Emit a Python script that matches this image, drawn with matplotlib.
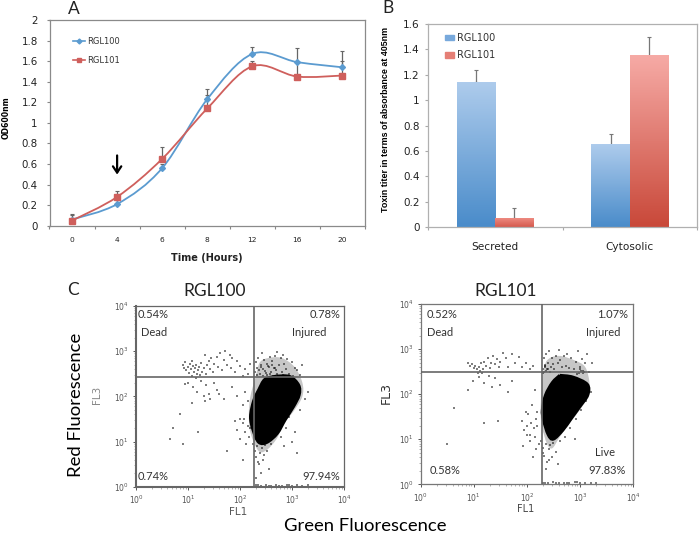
import numpy as np
import matplotlib
matplotlib.use('Agg')
import matplotlib.pyplot as plt
from matplotlib.colors import LinearSegmentedColormap
from matplotlib.patches import PathPatch, Patch
from matplotlib.path import Path
from matplotlib.lines import Line2D

# panel A
hours = ['0', '4', '6', '8', '12', '16', '20']
rgl100_od = [0.06, 0.21, 0.56, 1.23, 1.67, 1.59, 1.54]
rgl101_od = [0.05, 0.28, 0.65, 1.14, 1.55, 1.45, 1.46]
rgl100_err = [0.05, 0.04, 0.04, 0.10, 0.07, 0.14, 0.16]
rgl101_err = [0.05, 0.06, 0.12, 0.13, 0.05, 0.14, 0.14]
od_ticks = [0, 0.2, 0.4, 0.6, 0.8, 1, 1.2, 1.4, 1.6, 1.8, 2]

# panel B
fractions = ['Secreted', 'Cytosolic']
rgl100_toxin = [1.14, 0.65]
rgl101_toxin = [0.07, 1.35]
rgl100_toxin_err = [0.10, 0.08]
rgl101_toxin_err = [0.08, 0.15]
toxin_ticks = [0, 0.2, 0.4, 0.6, 0.8, 1, 1.2, 1.4, 1.6]

# panel C, everything in decades (log10 of FL1 / FL3)
c1_gate = (2.26, 2.43)
c1_blob_x = [2.70, 2.96, 3.13, 3.14, 3.03, 2.87, 2.72, 2.52, 2.36, 2.25, 2.20, 2.26, 2.36, 2.48]
c1_blob_y = [2.45, 2.44, 2.25, 2.03, 1.77, 1.48, 1.18, 0.98, 0.98, 1.25, 1.55, 1.90, 2.15, 2.38]
c1_halo_x = [2.30, 2.38, 2.55, 2.80, 3.05, 3.20, 3.20, 3.05, 2.85, 2.70, 2.50, 2.35, 2.20, 2.17, 2.20]
c1_halo_y = [2.43, 2.75, 2.85, 2.85, 2.65, 2.30, 2.00, 1.70, 1.40, 1.05, 0.80, 0.80, 1.20, 1.60, 2.00]
c1_dots_x = [0.90, 0.93, 0.95, 0.97, 1.00, 1.02, 1.03, 1.05, 1.07, 1.08, 1.10, 1.12, 1.13, 1.15, 1.16, 1.18,
             1.20, 1.21, 1.23, 1.25, 1.27, 1.30, 1.33, 1.35, 1.37, 1.40, 1.42, 1.45, 1.48, 1.50, 1.55, 1.58,
             1.62, 1.65, 1.70, 1.72, 1.75, 1.80, 1.83, 1.85, 1.90, 1.95, 2.00, 2.05, 2.10, 2.15, 2.20,
             1.00, 1.10, 1.18, 1.25, 1.30, 1.32, 1.35, 1.40, 1.42, 1.50, 1.55, 1.60, 1.70, 1.85, 1.95, 2.05,
             2.10, 2.15, 0.95, 1.08, 0.85, 0.72, 0.65, 0.90, 1.20, 2.00, 2.05, 2.10, 2.15, 2.18, 1.90, 1.95,
             2.00, 2.08, 2.12, 2.20, 1.75, 2.05,
             2.28, 2.30, 2.33, 2.35, 2.38, 2.40, 2.42, 2.45, 2.47, 2.50, 2.52, 2.55, 2.57, 2.60, 2.62, 2.65,
             2.68, 2.70, 2.72, 2.75, 2.78, 2.80, 2.83, 2.85, 2.88, 2.90, 2.95, 3.00, 3.05, 3.10, 3.15, 3.20,
             2.32, 2.36, 2.41, 2.44, 2.48, 2.51, 2.54, 2.58, 2.61, 2.64, 2.67, 2.72, 2.76, 2.82, 2.92, 3.02,
             2.25, 2.28, 2.30, 2.33, 2.36, 2.38, 2.42, 2.45, 2.48, 2.52, 2.55, 2.60, 2.40, 2.34, 2.46, 2.31,
             2.78, 2.88, 2.95, 3.05, 3.15, 3.25, 3.30, 3.00, 3.10, 2.85,
             2.30, 2.40, 2.50, 2.60, 2.70, 2.80, 2.90, 3.00, 3.10, 3.20, 3.30, 2.35, 2.55, 2.75, 2.95]
c1_dots_y = [2.70, 2.62, 2.75, 2.58, 2.66, 2.52, 2.72, 2.60, 2.78, 2.45, 2.68, 2.55, 2.63, 2.40, 2.70, 2.50,
             2.58, 2.66, 2.47, 2.74, 2.55, 2.62, 2.92, 2.50, 2.70, 2.78, 2.60, 2.85, 2.55, 2.72, 2.88, 2.65,
             2.95, 2.58, 2.80, 3.00, 2.70, 2.92, 2.62, 2.85, 2.55, 2.78, 2.68, 2.45, 2.60, 2.50, 2.72,
             2.30, 2.20, 2.10, 2.35, 2.00, 1.90, 2.25, 2.05, 1.95, 2.30, 2.15, 2.05, 1.95, 2.20, 2.00, 1.80,
             2.10, 1.90, 2.28, 1.85, 1.60, 1.30, 1.05, 0.95, 1.20, 1.50, 1.40, 1.20, 1.35, 1.10, 1.45, 1.25,
             1.05, 1.50, 0.95, 1.30, 0.80, 0.60,
             2.55, 2.75, 2.62, 2.85, 2.50, 2.70, 2.95, 2.60, 2.80, 2.52, 2.72, 2.65, 2.88, 2.55, 2.78, 2.62,
             2.90, 2.58, 2.98, 2.70, 2.85, 2.55, 2.92, 2.72, 2.60, 2.82, 2.50, 2.75, 2.62, 2.58, 2.48, 2.70,
             2.48, 2.58, 2.66, 2.45, 2.56, 2.48, 2.68, 2.50, 2.70, 2.46, 2.62, 2.50, 2.45, 2.48, 2.42, 2.45,
             0.95, 0.80, 0.65, 0.90, 0.50, 0.75, 0.85, 0.60, 0.92, 0.78, 0.40, 0.95, 0.30, 0.55, 0.70, 0.20,
             1.10, 1.30, 1.55, 1.20, 1.70, 1.95, 2.10, 1.00, 0.75, 0.90,
             0.03, 0.02, 0.04, 0.02, 0.03, 0.02, 0.04, 0.02, 0.03, 0.02, 0.03, 0.03, 0.02, 0.02, 0.04]

c2_gate = (2.28, 2.485)
c2_blob_x = [2.62, 2.87, 3.14, 3.15, 3.00, 2.84, 2.68, 2.50, 2.40, 2.31, 2.29, 2.35, 2.48]
c2_blob_y = [2.42, 2.38, 2.22, 1.98, 1.72, 1.46, 1.20, 1.00, 1.10, 1.43, 1.65, 1.98, 2.26]
c2_halo_x = [2.30, 2.38, 2.60, 2.90, 3.10, 3.18, 3.15, 3.00, 2.80, 2.62, 2.48, 2.38, 2.28, 2.26, 2.28]
c2_halo_y = [2.45, 2.75, 2.85, 2.75, 2.60, 2.25, 1.95, 1.65, 1.35, 1.05, 0.80, 0.90, 1.30, 1.70, 2.10]
c2_dots_x = [0.90, 0.93, 0.97, 1.00, 1.03, 1.06, 1.08, 1.10, 1.12, 1.13, 1.15, 1.18, 1.20, 1.23, 1.27, 1.30,
             1.33, 1.37, 1.40, 1.43, 1.47, 1.50, 1.55, 1.60, 1.65, 1.72, 1.78, 1.85, 1.90, 1.98, 2.05, 2.12,
             0.98, 1.10, 1.20, 1.28, 1.35, 1.40, 1.50, 1.65, 1.72, 0.90, 0.62, 1.20, 1.45, 0.50,
             1.90, 1.95, 2.00, 2.02, 2.05, 2.08, 2.10, 2.13, 2.16, 2.18, 2.20, 2.22, 1.92, 2.00, 2.06, 2.12,
             2.18, 2.20, 2.15, 1.98,
             2.30, 2.32, 2.34, 2.36, 2.38, 2.40, 2.42, 2.45, 2.48, 2.50, 2.52, 2.55, 2.58, 2.60, 2.63, 2.66,
             2.70, 2.73, 2.76, 2.80, 2.84, 2.88, 2.92, 2.96, 3.00, 3.03, 3.06, 3.10, 3.14, 3.18, 3.22, 2.33,
             2.37, 2.35, 2.31, 2.39, 2.34, 2.43, 2.98, 3.02, 3.05, 3.00, 3.07, 2.95,
             2.27, 2.30, 2.33, 2.36, 2.38, 2.41, 2.44, 2.47, 2.50, 2.54, 2.58, 2.63, 2.36, 2.42, 2.30,
             2.72, 2.82, 2.92, 3.02, 3.12, 3.20, 2.90,
             2.30, 2.40, 2.50, 2.60, 2.70, 2.80, 2.90, 3.00, 3.10, 3.20, 3.30, 2.35, 2.55, 2.75, 2.95]
c2_dots_y = [2.70, 2.62, 2.66, 2.58, 2.62, 2.55, 2.48, 2.60, 2.52, 2.70, 2.47, 2.55, 2.72, 2.62, 2.80, 2.58,
             2.68, 2.85, 2.66, 2.78, 2.60, 2.72, 2.92, 2.80, 2.60, 2.88, 2.70, 2.82, 2.60, 2.68, 2.55, 2.62,
             2.30, 2.38, 2.25, 2.40, 2.15, 2.35, 2.20, 2.05, 2.30, 2.10, 1.70, 1.35, 1.40, 0.90,
             1.40, 1.20, 1.30, 1.55, 1.10, 1.35, 1.75, 1.25, 1.05, 1.45, 1.60, 0.90, 0.85, 1.10, 0.95, 0.60,
             0.78, 1.30, 2.10, 1.60,
             2.55, 2.80, 2.62, 2.90, 2.55, 2.70, 2.95, 2.60, 2.80, 2.66, 2.55, 2.85, 2.70, 2.98, 2.75, 2.60,
             2.85, 2.62, 2.90, 2.58, 2.80, 2.55, 2.72, 2.95, 2.60, 2.78, 2.52, 2.68, 2.90, 2.50, 2.70, 2.50,
             2.52, 2.60, 2.48, 2.56, 2.64, 2.50, 2.48, 2.52, 2.46, 2.56, 2.50, 2.44,
             0.95, 0.80, 0.62, 0.90, 0.50, 0.78, 0.88, 0.60, 0.92, 0.72, 0.45, 0.95, 0.35, 0.55, 0.70,
             1.05, 1.25, 1.45, 1.65, 1.85, 2.05, 1.00,
             0.03, 0.02, 0.04, 0.02, 0.03, 0.02, 0.04, 0.02, 0.03, 0.02, 0.03, 0.03, 0.02, 0.02, 0.04]

W, H = 700, 535
BLUE = '#5b9bd0'
RED = '#cf5f5c'
SANS = 'DejaVu Sans'
CAL = 'Lato'

plt.rcParams['hatch.linewidth'] = 0.3
fig = plt.figure(figsize=(W / 100, H / 100), dpi=100, facecolor='white')


def add_axes(left, top, right, bottom):
    return fig.add_axes([left / W, 1 - bottom / H, (right - left) / W, (bottom - top) / H])


def put(x, y, s, **kw):
    kw.setdefault('va', 'center')
    fig.text(x / W, 1 - y / H, s, **kw)


def smooth_path(x, y):
    # same kind of smoothing Excel does, bezier segments through the points
    x, y = np.asarray(x, float), np.asarray(y, float)
    verts, codes = [(x[0], y[0])], [Path.MOVETO]
    for i in range(len(x) - 1):
        a, b = max(i - 1, 0), min(i + 2, len(x) - 1)
        verts.append((x[i] + (x[i + 1] - x[a]) / 6, y[i] + (y[i + 1] - y[a]) / 6))
        verts.append((x[i + 1] - (x[b] - x[i]) / 6, y[i + 1] - (y[b] - y[i]) / 6))
        verts.append((x[i + 1], y[i + 1]))
        codes += [Path.CURVE4] * 3
    return Path(verts, codes)


def log_outline(x, y):
    # closed outline smoothed in decades, then moved to the log axes' values
    p = smooth_path(x + x[:1], y + y[:1])
    return Path(10 ** p.vertices, p.codes)


# A: growth curve
ax = add_axes(49.5, 20, 365, 225.7)
pos = np.arange(len(hours))
for od, err, col, mk, ms in [(rgl100_od, rgl100_err, BLUE, 'D', 3), (rgl101_od, rgl101_err, RED, 's', 4.5)]:
    ax.errorbar(pos, od, yerr=[np.zeros(len(od)), err], fmt='none', ecolor='#666666', elinewidth=0.9,
                capsize=1.2, capthick=0.8, zorder=2)
    ax.add_patch(PathPatch(smooth_path(pos, od), fc='none', ec=col, lw=1.3, zorder=3))
    ax.plot(pos, od, ls='none', marker=mk, ms=ms, color=col, mec=col, zorder=4)
ax.annotate('', xy=(1, 0.47), xytext=(1, 0.71),
            arrowprops=dict(arrowstyle='->,head_length=0.45,head_width=0.3', color='black', lw=1.6))
ax.set_xlim(-0.5, 6.5)
ax.set_ylim(0, 2)
ax.set_xticks(np.arange(-0.5, 7), minor=False, labels=[''] * 8)
ax.set_xticks(pos, labels=hours, minor=True)
ax.tick_params(axis='x', which='major', length=2, color='#888888')
ax.tick_params(axis='x', which='minor', length=0, labelsize=5.4, pad=8, labelcolor='#222222')
ax.set_yticks(od_ticks, labels=[str(t) for t in od_ticks])
ax.tick_params(axis='y', length=2, color='#888888', labelsize=7.4, pad=6.5, labelcolor='#222222')
for s in ax.spines.values():
    s.set_color('#8a8a8a')
    s.set_linewidth(0.9)
put(207, 258, 'Time (Hours)', ha='center', fontsize=7, fontweight='bold', color='#222222', family=SANS)
put(6, 118, 'OD600nm', ha='center', rotation=90, fontsize=5.6, fontweight='bold', color='black', family=SANS)
ax.legend(handles=[Line2D([], [], color=BLUE, marker='D', ms=2.5, lw=1.2, label='RGL100'),
                   Line2D([], [], color=RED, marker='s', ms=3.5, lw=1.2, label='RGL101')],
          frameon=False, fontsize=6, loc='upper left', bbox_to_anchor=(0.0735, 0.917), handlelength=1.5,
          handletextpad=0.25, labelspacing=1.15, borderpad=0, borderaxespad=0, labelcolor='#333333')

# B: toxin bars with the Excel gradient
ax = add_axes(428, 24, 697, 227)
bar_w = 0.285
gx = np.arange(len(fractions))
blue_cm = LinearSegmentedColormap.from_list('b', ['#4a8cca', '#adcbec'])
red_cm = LinearSegmentedColormap.from_list('r', ['#c9493a', '#f6aaa5'])
short_red_cm = LinearSegmentedColormap.from_list('r2', ['#d45a4e', '#ee8a80'])
grad = np.linspace(1, 0, 64).reshape(-1, 1)
for vals, errs, off, cm in [(rgl100_toxin, rgl100_toxin_err, -bar_w / 2, blue_cm),
                            (rgl101_toxin, rgl101_toxin_err, bar_w / 2, red_cm)]:
    ax.errorbar(gx + off, vals, yerr=[np.zeros(2), errs], fmt='none', ecolor='#777777', elinewidth=0.9,
                capsize=1.2, capthick=0.8, zorder=1)
    bars = ax.bar(gx + off, vals, bar_w, color='none', edgecolor='none', zorder=2)
    for b in bars:
        c = short_red_cm if (cm is red_cm and b.get_height() < 0.2) else cm
        ax.imshow(grad, extent=[b.get_x(), b.get_x() + b.get_width(), 0, b.get_height()], cmap=c,
                  vmin=0, vmax=1, aspect='auto', zorder=2)
ax.set_xlim(-0.5, 1.5)
ax.set_ylim(0, 1.6)
ax.set_xticks([-0.5, 0.5, 1.5], labels=['', '', ''])
ax.set_xticks(gx, labels=fractions, minor=True)
ax.tick_params(axis='x', which='major', length=2, color='#aaaaaa')
ax.tick_params(axis='x', which='minor', length=0, labelsize=7.6, pad=11, labelcolor='#222222')
ax.set_yticks(toxin_ticks, labels=[str(t) for t in toxin_ticks])
ax.tick_params(axis='y', length=2, color='#aaaaaa', labelsize=7.5, pad=4, labelcolor='#222222')
for s in ax.spines.values():
    s.set_color('#b0b0b0')
    s.set_linewidth(0.9)
put(386, 119, 'Toxin titer in terms of absorbance at 405nm', ha='center', rotation=90, fontsize=6.4,
    fontweight='bold', family='Liberation Sans', color='black')
ax.legend(handles=[Patch(color='#78a9dc', label='RGL100'), Patch(color='#e57f76', label='RGL101')],
          frameon=False, fontsize=7, loc='upper left', bbox_to_anchor=(0.065, 0.956), handlelength=0.85,
          handleheight=0.5, handletextpad=0.3, labelspacing=0.75, borderpad=0, borderaxespad=0,
          labelcolor='#333333')


# C: flow cytometry
def flow_panel(box, gate, bx, by, hx, hy, dx, dy, col):
    ax = add_axes(*box)
    ax.set_xscale('log')
    ax.set_yscale('log')
    ax.set_xlim(1, 1e4)
    ax.set_ylim(1, 1e4)
    # solid core plus the speckled rim round it
    ax.add_patch(PathPatch(log_outline(hx, hy), fc='#00000038', ec='none', hatch='.......', lw=0, zorder=1))
    ax.add_patch(PathPatch(log_outline(bx, by), fc='black', ec='black', lw=2, zorder=2))
    ax.scatter(10 ** np.array(dx), 10 ** np.array(dy), s=0.8, marker='s', color='black', alpha=0.5,
               linewidths=0, zorder=2)
    ax.axvline(10 ** gate[0], color='#666666', lw=1.2, zorder=3)
    ax.axhline(10 ** gate[1], color='#666666', lw=1.2, zorder=3)
    ax.tick_params(axis='both', which='major', length=2.5, labelsize=5.5, color='#555555',
                   labelcolor='#555555', pad=2.5, width=0.7)
    ax.tick_params(axis='both', which='minor', length=1.2, color='#777777', width=0.4)
    for s in ax.spines.values():
        s.set_color(col)
        s.set_linewidth(0.9)
    return ax


ax = flow_panel((136, 306, 344, 486.7), c1_gate, c1_blob_x, c1_blob_y, c1_halo_x, c1_halo_y,
                c1_dots_x, c1_dots_y, '#666666')
ax.spines['left'].set_linewidth(1.5)
ax.spines['bottom'].set_linewidth(1.5)
flow_panel((420.7, 304, 633, 484.3), c2_gate, c2_blob_x, c2_blob_y, c2_halo_x, c2_halo_y,
           c2_dots_x, c2_dots_y, '#777777')

for x, y, s, ha in [(138, 314, '0.54%', 'left'), (141, 332, 'Dead', 'left'), (340, 314, '0.78%', 'right'),
                    (326, 332, 'Injured', 'right'), (138, 477, '0.74%', 'left'), (340, 477, '97.94%', 'right'),
                    (426.7, 314, '0.52%', 'left'), (426.7, 332, 'Dead', 'left'), (627.7, 314, '1.07%', 'right'),
                    (620.7, 332, 'Injured', 'right'), (429.3, 470, '0.58%', 'left'), (626, 470, '97.83%', 'right'),
                    (615, 452, 'Live', 'right')]:
    put(x, y, s, ha=ha, fontsize=8, family=CAL, color='#333333')

put(238, 512, 'FL1', ha='center', fontsize=7.5, family=SANS, color='#555555')
put(97, 395, 'FL3', ha='center', rotation=90, fontsize=7.5, family=SANS, color='#888888')
put(526, 509, 'FL1', ha='center', fontsize=7, family=SANS, color='#444444')
put(386, 393, 'FL3', ha='center', rotation=90, fontsize=9, family=SANS, color='#333333')

put(215, 291, 'RGL100', ha='center', fontsize=12.5, family=CAL, color='#222222')
put(506, 291, 'RGL101', ha='center', fontsize=12.5, family=CAL, color='#222222')
put(76, 405, 'Red Fluorescence', ha='center', rotation=90, fontsize=13.3, family=CAL, color='black')
put(365, 526, 'Green Fluorescence', ha='center', fontsize=13.3, family=CAL, color='black')
put(68, 9, 'A', fontsize=12.5, family=CAL, color='#222222')
put(382, 8, 'B', fontsize=12.5, family=CAL, color='#222222')
put(67, 290, 'C', fontsize=12.5, family=CAL, color='#222222')

fig.savefig('out.png', dpi=100)
